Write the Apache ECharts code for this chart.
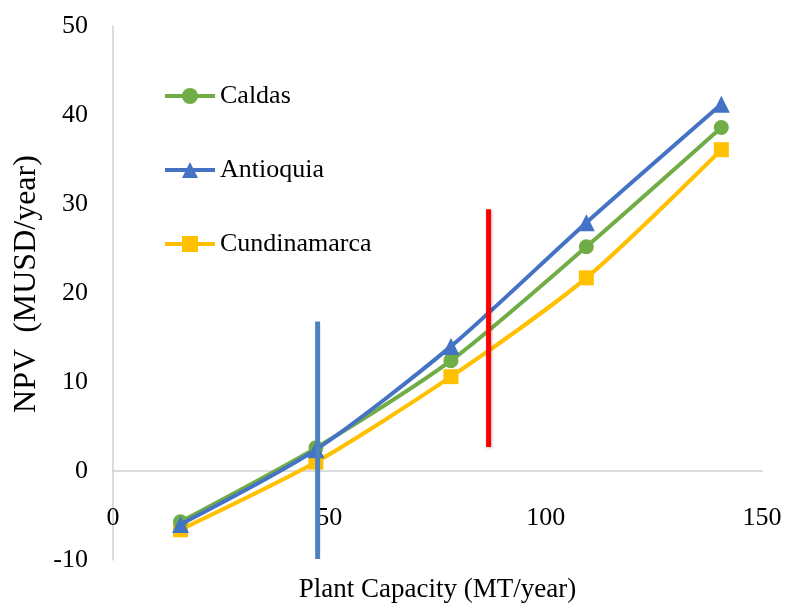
<!DOCTYPE html>
<html>
<head>
<meta charset="utf-8">
<script src="https://cdn.jsdelivr.net/npm/echarts@6/dist/echarts.min.js"></script>
<style>
html,body{margin:0;padding:0;background:#fff;}
#chart{width:786px;height:610px;}
</style>
</head>
<body>
<div id="chart"></div>
<script>
var capacity = [15.6, 46.9, 78.1, 109.4, 140.6];
var caldas = [-5.7, 2.6, 12.4, 25.2, 38.6];
var antioquia = [-6.0, 2.4, 14.0, 27.9, 41.2];
var cundinamarca = [-6.6, 1.0, 10.6, 21.7, 36.1];
var blueMarker = [[47.3, 16.8], [47.3, -9.9]];
var redMarker = [[86.8, 29.4], [86.8, 2.7]];
var xTicks = [0, 50, 100, 150];
var yTicks = [-10, 0, 10, 20, 30, 40, 50];

function pairs(xs, ys) { return xs.map(function (x, i) { return [x, ys[i]]; }); }

var FONT = 'Liberation Serif';
var chart = echarts.init(document.getElementById('chart'));
chart.setOption({
  animation: false,
  backgroundColor: '#ffffff',
  textStyle: { fontFamily: FONT },
  grid: { left: 113, right: 24, top: 26, bottom: 50, containLabel: false, outerBoundsMode: 'none' },
  legend: {
    data: ['Caldas', 'Antioquia', 'Cundinamarca'],
    orient: 'vertical',
    left: 163, top: 83,
    padding: 0,
    itemWidth: 50, itemHeight: 20,
    itemGap: 48,
    lineStyle: { width: 4 },
    textStyle: { fontFamily: FONT, fontSize: 26, color: '#000' }
  },
  xAxis: {
    type: 'value', min: xTicks[0], max: xTicks[xTicks.length - 1], interval: 50,
    axisLine: { onZero: true, lineStyle: { color: '#d0d0d0', width: 1.5 } },
    axisTick: { show: false },
    splitLine: { show: false },
    axisLabel: { margin: -55, fontFamily: FONT, fontSize: 26, color: '#000' },
    name: 'Plant Capacity (MT/year)',
    nameLocation: 'middle', nameGap: 16,
    nameTextStyle: { fontFamily: FONT, fontSize: 27, color: '#000' }
  },
  yAxis: {
    type: 'value', min: yTicks[0], max: yTicks[yTicks.length - 1], interval: 10,
    axisLine: { show: true, onZero: false, lineStyle: { color: '#d0d0d0', width: 1.5 } },
    axisTick: { show: false },
    splitLine: { show: false },
    axisLabel: { margin: 25, fontFamily: FONT, fontSize: 26, color: '#000' },
    name: 'NPV  (MUSD/year)',
    nameLocation: 'middle', nameGap: 57, nameRotate: 90,
    nameTextStyle: { fontFamily: FONT, fontSize: 32, color: '#000', padding: [0, 0, 0, 18] }
  },
  series: [
    { name: 'Caldas', type: 'line', smooth: 0.25, data: pairs(capacity, caldas),
      symbol: 'circle', symbolSize: 15, z: 3,
      lineStyle: { color: '#70ad47', width: 4 }, itemStyle: { color: '#70ad47' } },
    { name: 'Antioquia', type: 'line', smooth: 0.25, data: pairs(capacity, antioquia),
      symbol: 'triangle', symbolSize: 17, z: 4,
      lineStyle: { color: '#4472c4', width: 4 }, itemStyle: { color: '#4472c4' } },
    { name: 'Cundinamarca', type: 'line', smooth: 0.25, data: pairs(capacity, cundinamarca),
      symbol: 'rect', symbolSize: 15, z: 2,
      lineStyle: { color: '#ffc000', width: 4 }, itemStyle: { color: '#ffc000' } },
    { name: 'blueMark', type: 'line', data: blueMarker, symbol: 'none', z: 5,
      lineStyle: { color: '#4f81bd', width: 5 }, silent: true },
    { name: 'redMark', type: 'line', data: redMarker, symbol: 'none', z: 5,
      lineStyle: { color: '#ff0000', width: 5, shadowColor: 'rgba(0,0,0,0.25)', shadowBlur: 3, shadowOffsetX: 1, shadowOffsetY: 1 }, silent: true }
  ]
});
</script>
</body>
</html>
